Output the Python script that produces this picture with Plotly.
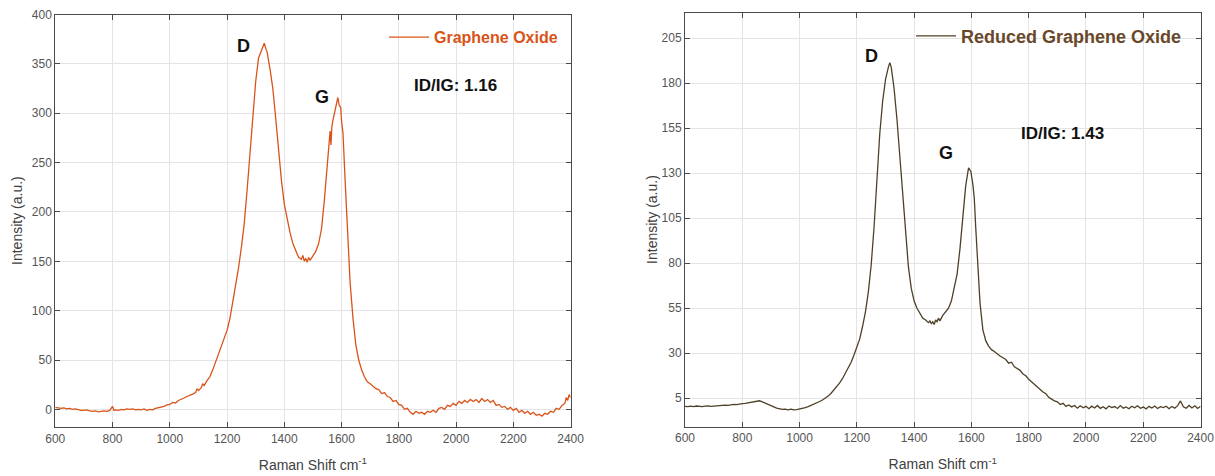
import plotly.graph_objects as go

# ---------------- Data ----------------
go_shift = [600, 610, 620, 630, 640, 650, 660, 670, 680, 690, 700, 710, 720, 730, 740, 750, 760, 770, 780, 790,
            800, 805, 810, 820, 830, 840, 850, 860, 870, 880, 890, 900, 910, 920, 930, 940, 950, 960, 970, 980,
            990, 1000, 1010, 1020, 1030, 1040, 1050, 1060, 1070, 1080, 1090, 1095, 1100, 1110, 1115, 1120, 1130,
            1140, 1150, 1160, 1170, 1180, 1190, 1200, 1210, 1220, 1230, 1240, 1250, 1260, 1270, 1280, 1290, 1300,
            1310, 1320, 1325, 1330, 1335, 1340, 1350, 1360, 1370, 1380, 1390, 1400, 1410, 1420, 1430, 1440, 1450,
            1460, 1465, 1470, 1475, 1480, 1485, 1490, 1500, 1510, 1520, 1530, 1540, 1550, 1555, 1560, 1563, 1566,
            1570, 1580, 1587, 1592, 1597, 1600, 1605, 1612, 1620, 1630, 1640, 1650, 1660, 1670, 1680, 1690, 1700,
            1710, 1720, 1730, 1740, 1750, 1760, 1770, 1780, 1790, 1800, 1810, 1820, 1830, 1840, 1850, 1860, 1870,
            1880, 1890, 1900, 1910, 1920, 1930, 1940, 1950, 1960, 1970, 1980, 1990, 2000, 2010, 2020, 2030, 2040,
            2050, 2060, 2070, 2080, 2090, 2100, 2110, 2120, 2130, 2140, 2150, 2160, 2170, 2180, 2190, 2200, 2210,
            2220, 2230, 2240, 2250, 2260, 2270, 2280, 2290, 2300, 2310, 2320, 2330, 2340, 2350, 2360, 2370, 2380,
            2385, 2390, 2395, 2400]
go_intensity = [2, 1.5, 1, 1.5, 0.5, 1, 0, 0.5, -0.5, -1, -1, -0.5, -1.5, -2, -1.5, -2.5, -2, -1.5, -2, -1,
                3, -1, -0.5, -1, 0, -0.5, 0.5, 0, 0.5, -0.5, 0, -0.5, 0.5, -1, 0, -0.5, 1, 1.5, 2.5, 3,
                4.5, 5, 7, 6.5, 9, 10, 11.5, 13, 14, 15.5, 17, 21, 19, 22, 26, 24, 29,
                33, 40, 48, 55, 62, 70, 80, 92, 108, 125, 143, 164, 188, 222, 262, 298, 332,
                356, 363, 366, 371, 366, 362, 345, 325, 295, 262, 232, 208, 192, 179, 168, 160, 154,
                152, 156, 150, 153, 149, 154, 151, 156, 160, 168, 183, 212, 245, 262, 282, 268, 286,
                293, 305, 316, 308, 306, 292, 280, 235, 185, 128, 92, 65, 50, 40, 33, 28, 26,
                23, 21, 20, 16, 17, 13, 12, 8, 9, 5, 4, 0, 1, -3, -5, -2, -4,
                -3, -5, -2, -3, -1, -3, 1, 2, 0, 4, 3, 6, 4, 8, 6, 9, 7,
                10, 8, 10, 7, 11, 8, 10, 7, 9, 4, 5, 2, 3, 0, 2, -1, 1,
                -3, -1, -4, -2, -5, -3, -6, -5, -7, -4, -5, -2, -3, 1, 0, 4, 6,
                12, 9, 15, 12]

rgo_shift = [600, 610, 620, 630, 640, 650, 660, 670, 680, 690, 700, 710, 720, 730, 740, 750, 760, 770, 780, 790,
             800, 810, 820, 830, 840, 850, 860, 870, 880, 890, 900, 910, 920, 930, 940, 950, 960, 970, 980, 990,
             1000, 1010, 1020, 1030, 1040, 1050, 1060, 1070, 1080, 1090, 1100, 1110, 1120, 1130, 1140, 1150, 1160,
             1170, 1180, 1190, 1200, 1210, 1220, 1230, 1240, 1250, 1260, 1270, 1280, 1290, 1300, 1310, 1315, 1320,
             1330, 1340, 1350, 1360, 1370, 1380, 1390, 1400, 1410, 1420, 1430, 1440, 1450, 1455, 1460, 1465, 1470,
             1475, 1480, 1485, 1490, 1500, 1510, 1520, 1530, 1540, 1550, 1560, 1570, 1580, 1590, 1598, 1605, 1610,
             1615, 1620, 1625, 1630, 1640, 1650, 1660, 1670, 1680, 1690, 1700, 1710, 1720, 1730, 1740, 1750, 1760,
             1770, 1780, 1790, 1800, 1810, 1820, 1830, 1840, 1850, 1860, 1870, 1880, 1890, 1900, 1910, 1920, 1930,
             1940, 1950, 1960, 1970, 1980, 1990, 2000, 2010, 2020, 2030, 2040, 2050, 2060, 2070, 2080, 2090, 2100,
             2110, 2120, 2130, 2140, 2150, 2160, 2170, 2180, 2190, 2200, 2210, 2220, 2230, 2240, 2250, 2260, 2270,
             2280, 2290, 2300, 2310, 2320, 2330, 2340, 2350, 2360, 2370, 2380, 2390, 2400]
rgo_intensity = [0.5, 0.3, 0.6, 0.4, 0.7, 0.5, 0.4, 0.6, 0.8, 0.5, 0.7, 0.9, 0.7, 1.0, 1.2, 1.0, 1.4, 1.6, 1.5, 1.9,
                 2.0, 2.2, 2.4, 2.7, 3.0, 3.2, 3.6, 3.0, 2.2, 1.4, 0.7, 0.2, -0.5, -1.0, -1.2, -1.0, -1.4, -1.1, -1.5, -1.3,
                 -1.0, -0.6, -0.2, 0.4, 1.0, 1.8, 2.4, 3.2, 4.0, 5.0, 6.2, 7.8, 9.5, 11.5, 13.5, 16, 19,
                 22, 25, 29, 33, 38, 45, 53, 64, 79, 100, 128, 152, 170, 182, 189, 191.5, 189,
                 177, 160, 140, 116, 97, 78, 66, 59, 55, 52, 49.5, 48.5, 47, 48, 46.5, 47.5, 46,
                 48.5, 47.5, 49.5, 48, 51, 53, 55, 59, 66, 74, 88, 105, 123, 133, 131, 124, 116,
                 100, 84, 70, 58, 43, 37, 34, 32, 31, 29.5, 28.5, 27.5, 26.5, 24.5, 25, 22.5, 21.5,
                 20.5, 18.5, 17.5, 15.5, 14, 12.5, 11, 10, 8.5, 7.5, 5.5, 4.5, 3.5, 3, 1.5, 2.2, 0.5,
                 1.3, 0.2, 1.0, -0.5, 0.8, -0.3, 0.5, -0.8, 0.6, -0.4, 1.0, -0.6, 0.3, -0.9, 0.7, -0.2, 0.4,
                 -0.7, 0.9, -0.5, 0.2, -0.8, 0.6, -0.3, 0.8, -0.6, 0.1, -0.9, 0.5, -0.4, 0.7, -0.7, 0.3, -0.2,
                 0.6, -0.8, 0.4, -0.5, 0.9, 3.5, 0.2, -0.6, 1.0, -0.4, 0.8, -0.7, 0.5]

x_ticks = [600, 800, 1000, 1200, 1400, 1600, 1800, 2000, 2200, 2400]
go_y_ticks = [0, 50, 100, 150, 200, 250, 300, 350, 400]
rgo_y_ticks = [5, 30, 55, 80, 105, 130, 155, 180, 205]

go_labels = [("D", 1258, 368), ("G", 1530, 317), ("ID/IG: 1.16", 1998, 328)]
rgo_labels = [("D", 1251, 195), ("G", 1512, 141), ("ID/IG: 1.43", 1918, 152)]

GO_COLOR = "#D95319"
RGO_LINE = "#4E4026"
RGO_TEXT = "#684829"
FONT = "Liberation Sans, Arial, sans-serif"

fig = go.Figure()
fig.add_trace(go.Scatter(x=go_shift, y=go_intensity, mode="lines", name="Graphene Oxide",
                         line=dict(color=GO_COLOR, width=1.3), xaxis="x", yaxis="y", legend="legend"))
fig.add_trace(go.Scatter(x=rgo_shift, y=rgo_intensity, mode="lines", name="Reduced Graphene Oxide",
                         line=dict(color=RGO_LINE, width=1.3), xaxis="x2", yaxis="y2", legend="legend2"))

axis_common = dict(showgrid=True, gridcolor="#e4e4e4", gridwidth=1, showline=True, linecolor="#4a4a4a",
                   linewidth=1, mirror="allticks", ticks="inside", ticklen=5, tickcolor="#4a4a4a",
                   tickfont=dict(family=FONT, size=12, color="#555555"), zeroline=False, automargin=False)
title_font = dict(family=FONT, size=14, color="#404040")

L_DOM_X = [0.0455, 0.4696]
L_DOM_Y = [0.1023, 0.9693]
R_DOM_X = [0.5638, 0.9881]
R_DOM_Y = [0.1036, 0.9725]

fig.update_layout(
    width=1215, height=476, margin=dict(l=0, r=0, t=0, b=0),
    paper_bgcolor="white", plot_bgcolor="white",
    xaxis=dict(axis_common, domain=L_DOM_X, range=[600, 2400], tickvals=x_ticks, anchor="y",
               title=dict(text="Raman Shift cm<sup>-1</sup>", font=title_font)),
    yaxis=dict(axis_common, domain=L_DOM_Y, range=[-18.2, 400], tickvals=go_y_ticks, anchor="x"),
    xaxis2=dict(axis_common, domain=R_DOM_X, range=[600, 2400], tickvals=x_ticks, anchor="y2",
                title=dict(text="Raman Shift cm<sup>-1</sup>", font=title_font)),
    yaxis2=dict(axis_common, domain=R_DOM_Y, range=[-10.8, 219], tickvals=rgo_y_ticks, anchor="x2"),
    legend=dict(x=384 / 1215, y=0.922, xanchor="left", yanchor="middle", bgcolor="rgba(0,0,0,0)",
                font=dict(family=FONT, size=16, color=GO_COLOR, weight="bold"), itemwidth=40),
    legend2=dict(x=911 / 1215, y=0.924, xanchor="left", yanchor="middle", bgcolor="rgba(0,0,0,0)",
                 font=dict(family=FONT, size=18, color=RGO_TEXT, weight="bold"), itemwidth=40),
    showlegend=True,
)

# y-axis titles
fig.add_annotation(x=17 / 1215, y=(L_DOM_Y[0] + L_DOM_Y[1]) / 2, xref="paper", yref="paper",
                   xanchor="center", yanchor="middle",
                   text="Intensity (a.u.)", textangle=-90, showarrow=False, font=title_font)
fig.add_annotation(x=652 / 1215, y=(R_DOM_Y[0] + R_DOM_Y[1]) / 2, xref="paper", yref="paper",
                   xanchor="center", yanchor="middle",
                   text="Intensity (a.u.)", textangle=-90, showarrow=False, font=title_font)

for text, xv, yv in go_labels:
    fig.add_annotation(x=xv, y=yv, xref="x", yref="y", text=text, showarrow=False,
                       font=dict(family=FONT, size=18 if len(text) == 1 else 17, color="#111111", weight="bold"))
for text, xv, yv in rgo_labels:
    fig.add_annotation(x=xv, y=yv, xref="x2", yref="y2", text=text, showarrow=False,
                       font=dict(family=FONT, size=18 if len(text) == 1 else 17, color="#111111", weight="bold"))

fig.write_html("out.html", config={"displayModeBar": False},
               post_script="document.body.style.margin='0';document.body.style.padding='0';")
